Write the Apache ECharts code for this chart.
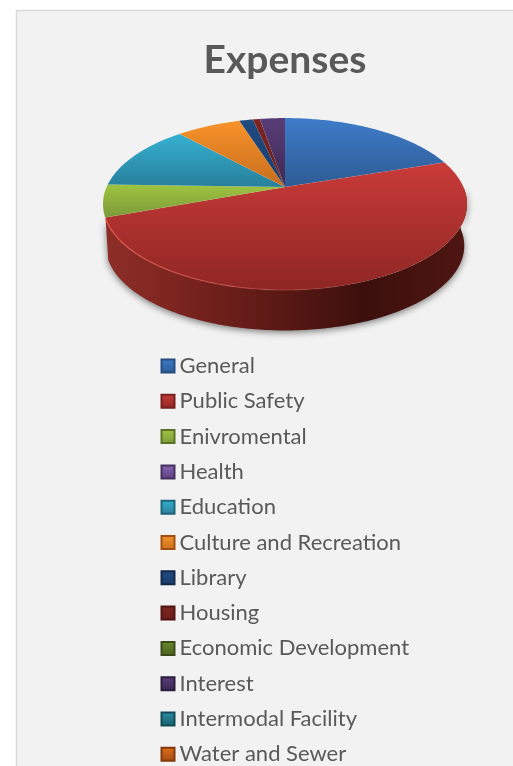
<!DOCTYPE html>
<html><head><meta charset="utf-8">
<style>
html,body{margin:0;padding:0;background:#fff;width:513px;height:766px;overflow:hidden}
#c{position:absolute;left:0;top:0;width:513px;height:766px}
</style>
<script src="https://cdn.jsdelivr.net/npm/echarts@6/dist/echarts.min.js"></script>
</head><body><div id="c"></div>
<script>
const categories=["General","Public Safety","Enivromental","Health","Education","Culture and Recreation","Library","Housing","Economic Development","Interest","Intermodal Facility","Water and Sewer"];
const expenses=[19.9,49.5,6.05,0,12.7,6.9,1.47,0.75,0,2.7,0,0];
const topColors=["#3f7cc9","#c93b39","#9fc440","#8a66b5","#36b1d2","#f9932b","#1f4b82","#7d2420","#6a8a2c","#5a3d78","#2a8ba3","#e0701c"];
const lowColors=["#2c5b94","#8e2623","#7c9a3a","#5a3f7e","#287f9b","#c66d1c","#193c68","#6a1d1a","#4a6020","#3d2953","#175f6e","#a54c12"];
const edgeColors=["#254d7e","#7a2020","#5c7327","#45305f","#1f6478","#a04f10","#12294a","#4e1412","#3a4d18","#2c1d3e","#114a56","#84390b"];

const CX=285,CY=187,A=178.4,B=82.6,K=0.198,DEPTH=42,LOWER=0.985,WALL_END=Math.PI*1.385;
const total=expenses.reduce((a,b)=>a+b,0);
function project(theta,drop,scale){
  const u=Math.sin(theta),v=Math.cos(theta),w=1+K*v;
  return [CX+A*scale*u/w,CY+drop-B*scale*v/w];
}
function arc(a0,a1,drop,scale){
  const n=Math.max(2,Math.ceil((a1-a0)/0.015)),p=[];
  for(let i=0;i<=n;i++)p.push(project(a0+(a1-a0)*i/n,drop,scale));
  return p;
}
function grad(x0,y0,x1,y1,stops){
  return new echarts.graphic.LinearGradient(x0,y0,x1,y1,stops.map(s=>({offset:s[0],color:s[1]})));
}
const wallStops=[[0,"#8e2d28"],[0.2,"#7c241f"],[0.45,"#5e1a16"],[0.72,"#3c0f0c"],[0.86,"#46130f"],[1,"#4e1612"]];
let running=0;
const series=categories.map((name,i)=>{
  const a0=running/total*2*Math.PI; running+=expenses[i];
  const a1=running/total*2*Math.PI;
  return {
    type:"custom",name,coordinateSystem:"none",
    itemStyle:{color:grad(0.5,0,0.5,1,[[0,topColors[i]],[1,lowColors[i]]]),borderColor:edgeColors[i],borderWidth:1},
    data:[[expenses[i]]],silent:true,
    renderItem(){
      if(a1<=a0)return {type:"group",children:[]};
      const top=arc(a0,a1,0,1);
      const children=[];
      const fa0=Math.max(a0,Math.PI/2),fa1=Math.min(a1,WALL_END);
      if(fa1>fa0){
        const wall=arc(fa0,fa1,0,1).concat(arc(fa0,fa1,DEPTH,LOWER).reverse());
        children.push({type:"polygon",z2:1,shape:{points:wall},style:{
          fill:grad(0,0.5,1,0.5,wallStops),shadowBlur:7,shadowColor:"rgba(0,0,0,0.5)",shadowOffsetY:2}});
      }
      children.push({type:"polygon",z2:5,shape:{points:[[CX,CY]].concat(top)},style:{
        fill:grad(0.5,0,0.5,1,[[0,topColors[i]],[1,lowColors[i]]]),stroke:"rgba(255,255,255,0.06)",lineWidth:0.5}});
      if(fa1>fa0){
        children.push({type:"polyline",z2:6,shape:{points:arc(fa0,fa1,0,1)},style:{
          fill:null,lineWidth:1.4,stroke:grad(0,0.5,1,0.5,[[0,"rgba(226,90,80,0.9)"],[0.45,"rgba(210,80,70,0.35)"],[0.7,"rgba(200,70,60,0)"],[1,"rgba(200,70,60,0)"]])}});
      }
      return {type:"group",children};
    }
  };
});
const chart=echarts.init(document.getElementById("c"),null,{renderer:"canvas"});
chart.setOption({
  animation:false,
  title:{text:"Expenses",left:280,top:36,textAlign:"center",textStyle:{fontFamily:"Lato",fontWeight:"bold",fontSize:39,color:"#595959"}},
  legend:{orient:"vertical",left:160.5,top:355,height:430,padding:0,itemWidth:13,itemHeight:13,itemGap:13.3,icon:"rect",align:"left",
    data:categories,selectedMode:false,
    textStyle:{fontFamily:"Lato",fontSize:22,color:"#595959",lineHeight:21}},
  series,
  graphic:[{type:"rect",z:-10,silent:true,shape:{x:16.5,y:10.5,width:600,height:900},style:{fill:"#f2f2f2",stroke:"#d9d9d9",lineWidth:1.5}}]
});
</script></body></html>
